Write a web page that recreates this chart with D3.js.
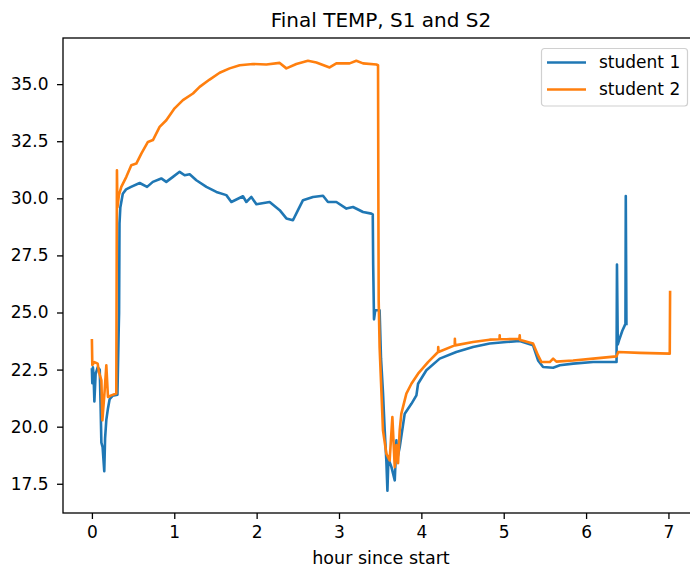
<!DOCTYPE html>
<html>
<head>
<meta charset="utf-8">
<script src="https://d3js.org/d3.v7.min.js"></script>
<style>
  body { margin: 0; background: white; }
  text { font-family: "DejaVu Sans", sans-serif; }
</style>
</head>
<body>
<div id="chart"></div>
<script>
// series (hours since start, temperature)
var hours1 = [0.000, 0.005, 0.012, 0.020, 0.030, 0.045, 0.070, 0.095, 0.105, 0.115, 0.130, 0.150, 0.160, 0.175, 0.195, 0.215, 0.250, 0.310,
  0.325, 0.330, 0.335, 0.345, 0.375, 0.415, 0.475, 0.580, 0.670, 0.740, 0.842, 0.903, 0.984, 1.065, 1.126, 1.187, 1.268, 1.390,
  1.511, 1.632, 1.693, 1.834, 1.875, 1.936, 1.997, 2.158, 2.280, 2.361, 2.441, 2.502, 2.563, 2.684, 2.806, 2.866, 2.968, 3.090,
  3.170, 3.292, 3.393, 3.410, 3.415, 3.418, 3.425, 3.440, 3.493, 3.510, 3.534, 3.555, 3.575, 3.588, 3.600, 3.637, 3.677, 3.697,
  3.708, 3.737, 3.798, 3.879, 3.940, 3.960, 4.061, 4.223, 4.424, 4.627, 4.830, 5.032, 5.194, 5.356, 5.417, 5.478, 5.600, 5.681,
  5.843, 6.086, 6.370, 6.375, 6.385, 6.400, 6.440, 6.478, 6.482, 6.490];
var temp1 = [22.5, 21.9, 22.6, 22.3, 21.1, 22.3, 22.6, 22.5, 21.0, 19.3, 19.1, 18.05, 19.5, 20.3, 20.8, 21.2, 21.35, 21.4,
  24.2, 25.0, 28.9, 29.6, 30.2, 30.39, 30.5, 30.67, 30.5, 30.72, 30.87, 30.72, 30.94, 31.16, 31.01, 31.05, 30.79, 30.5,
  30.28, 30.14, 29.84, 30.09, 29.84, 30.06, 29.74, 29.84, 29.48, 29.12, 29.04, 29.48, 29.92, 30.06, 30.11, 29.84, 29.84, 29.55,
  29.62, 29.40, 29.33, 29.30, 27.1, 26.4, 24.7, 25.1, 25.1, 23.0, 21.5, 19.84, 18.5, 17.2, 18.6, 18.23, 17.65, 19.4,
  18.6, 19.1, 20.57, 21.0, 21.37, 21.88, 22.47, 22.98, 23.27, 23.49, 23.64, 23.71, 23.75, 23.56, 22.9, 22.61, 22.58, 22.69,
  22.76, 22.83, 22.83, 27.1, 23.6, 23.78, 24.2, 24.5, 30.1, 24.5];

var hours2 = [0.000, 0.005, 0.030, 0.070, 0.085, 0.115, 0.127, 0.155, 0.175, 0.195, 0.235, 0.296, 0.304, 0.310, 0.328, 0.357,
  0.418, 0.478, 0.539, 0.600, 0.680, 0.741, 0.822, 0.903, 1.004, 1.105, 1.227, 1.308, 1.429, 1.551, 1.672, 1.794, 1.956, 2.118,
  2.280, 2.361, 2.482, 2.623, 2.725, 2.886, 2.968, 3.129, 3.210, 3.292, 3.454, 3.474, 3.478, 3.482, 3.493, 3.534, 3.575, 3.615,
  3.648, 3.677, 3.697, 3.717, 3.737, 3.757, 3.818, 3.879, 3.960, 4.081, 4.203, 4.205, 4.208, 4.405, 4.407, 4.410, 4.627, 4.830,
  4.949, 4.951, 4.953, 5.032, 5.190, 5.194, 5.198, 5.214, 5.356, 5.417, 5.458, 5.559, 5.600, 5.640, 5.843, 6.086, 6.370, 6.390,
  6.652, 7.016, 7.020];
var temp2 = [23.78, 22.7, 22.83, 22.76, 22.4, 22.03, 20.28, 21.59, 22.69, 21.3, 21.37, 21.45, 31.23, 29.6, 30.14, 30.5,
  30.94, 31.45, 31.52, 31.96, 32.47, 32.55, 33.13, 33.42, 33.94, 34.3, 34.59, 34.88, 35.2, 35.5, 35.69, 35.83, 35.88, 35.86,
  35.93, 35.69, 35.88, 36.02, 35.95, 35.73, 35.91, 35.91, 36.02, 35.91, 35.86, 35.83, 30.0, 25.5, 23.49, 19.84, 18.82, 18.52,
  20.42, 18.23, 19.2, 18.4, 19.84, 20.57, 21.45, 21.88, 22.32, 22.83, 23.27, 23.49, 23.27, 23.56, 23.85, 23.56, 23.71, 23.81,
  23.83, 24.0, 23.83, 23.83, 23.85, 24.0, 23.8, 23.78, 23.64, 23.12, 22.83, 22.83, 22.98, 22.85, 22.9, 22.98, 23.08, 23.27,
  23.23, 23.2, 25.9];

var seriesNames = ["student 1", "student 2"];
var xTicks = [0, 1, 2, 3, 4, 5, 6, 7];
var yTicks = [17.5, 20.0, 22.5, 25.0, 27.5, 30.0, 32.5, 35.0];

var W = 690, H = 568;
var margin = {top: 38, right: -9, bottom: 55, left: 63};
var width = W - margin.left - margin.right,
    height = H - margin.top - margin.bottom;

var svg = d3.select("#chart")
  .append("svg")
    .attr("width", W)
    .attr("height", H)
    .style("display", "block");

var g = svg.append("g")
    .attr("transform", "translate(" + margin.left + "," + margin.top + ")");

var x = d3.scaleLinear().domain([-0.351, 7.371]).range([0, width]);
var y = d3.scaleLinear().domain([16.22, 37.02]).range([height, 0]);

var color = d3.scaleOrdinal().domain(seriesNames).range(["#1f77b4", "#ff7f0e"]);

var series = [
  {name: seriesNames[0], pts: hours1.map(function(h, i) { return [h, temp1[i]]; })},
  {name: seriesNames[1], pts: hours2.map(function(h, i) { return [h, temp2[i]]; })}
];

var line = d3.line()
  .x(function(d) { return x(d[0]); })
  .y(function(d) { return y(d[1]); });

g.selectAll("path.series")
  .data(series)
  .enter().append("path")
    .attr("class", "series")
    .attr("d", function(d) { return line(d.pts); })
    .attr("fill", "none")
    .attr("stroke", function(d) { return color(d.name); })
    .attr("stroke-width", 2.6)
    .attr("stroke-linejoin", "round")
    .attr("stroke-linecap", "square");

// axes
var xAxis = g.append("g")
    .attr("transform", "translate(0," + height + ")")
    .call(d3.axisBottom(x).tickValues(xTicks).tickFormat(d3.format("d")).tickSize(6).tickPadding(7).tickSizeOuter(0));
var yAxis = g.append("g")
    .call(d3.axisLeft(y).tickValues(yTicks).tickFormat(d3.format(".1f")).tickSize(6).tickPadding(8.5).tickSizeOuter(0));

[xAxis, yAxis].forEach(function(a) {
  a.selectAll("text").style("font-size", "17px").attr("fill", "#000");
  a.selectAll("line").attr("stroke", "#000").attr("stroke-width", 1.3);
  a.select(".domain").remove();
});

// frame
g.append("rect")
    .attr("x", 0).attr("y", 0)
    .attr("width", width).attr("height", height)
    .attr("fill", "none")
    .attr("stroke", "#000")
    .attr("stroke-width", 1.3);

// title and label
svg.append("text")
    .attr("x", margin.left + width / 2)
    .attr("y", 27)
    .attr("text-anchor", "middle")
    .style("font-size", "20px")
    .text("Final TEMP, S1 and S2");

svg.append("text")
    .attr("x", margin.left + width / 2)
    .attr("y", 564)
    .attr("text-anchor", "middle")
    .style("font-size", "17.5px")
    .text("hour since start");

// legend
var legend = svg.append("g").attr("transform", "translate(541.5,48.5)");
legend.append("rect")
    .attr("width", 146).attr("height", 57.5)
    .attr("rx", 3)
    .attr("fill", "white").attr("fill-opacity", 0.8)
    .attr("stroke", "#d0d0d0").attr("stroke-width", 1.2);
seriesNames.forEach(function(name, i) {
  var yy = 14 + i * 27;
  legend.append("line")
      .attr("x1", 5.5).attr("x2", 44.5)
      .attr("y1", yy).attr("y2", yy)
      .attr("stroke", color(name)).attr("stroke-width", 2.6);
  legend.append("text")
      .attr("x", 57.5).attr("y", yy)
      .attr("dy", "0.35em")
      .style("font-size", "17px")
      .text(name);
});
</script>
</body>
</html>
